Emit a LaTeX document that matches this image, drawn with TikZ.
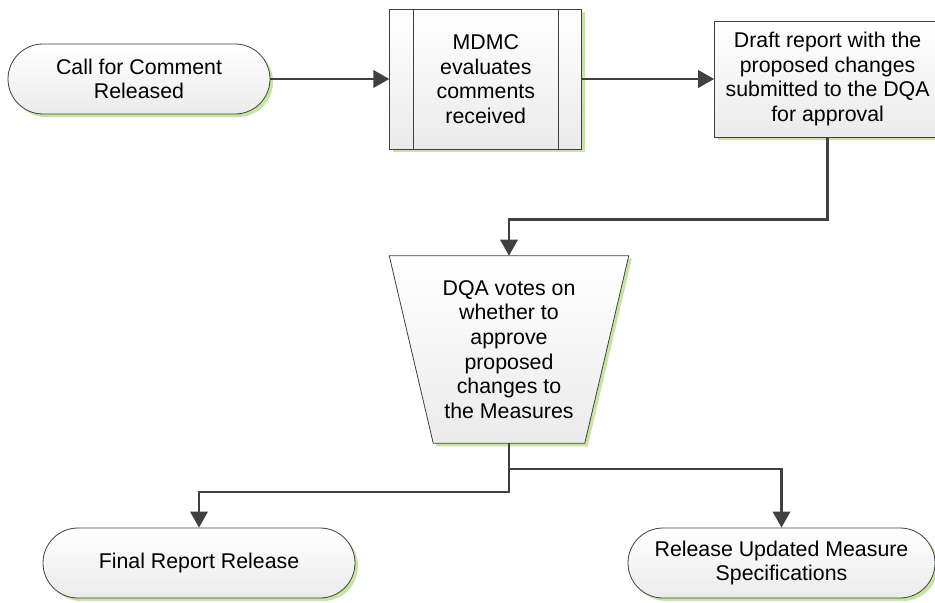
\documentclass[tikz,border=0pt]{standalone}
\usepackage{fontspec}
\setmainfont{Liberation Sans}
\usetikzlibrary{arrows.meta,positioning,shapes.misc,shadows,backgrounds}

\definecolor{linegray}{HTML}{404040}
\definecolor{shadowgreen}{HTML}{C5E5A0}

\tikzset{
	skin/.style={draw=linegray,line width=0.6pt,top color=white,bottom color=black!8,
		drop shadow={fill=shadowgreen,opacity=1,shadow xshift=2.25pt,shadow yshift=-2.25pt}},
	label/.style={align=center,inner sep=0pt,font=\fontsize{16}{18.5}\selectfont},
	box/.style={skin,label},
	terminal/.style={box,rounded rectangle,minimum height=52.5pt},
	process/.style={box,rectangle},
	vote/.style={label,minimum width=179.25pt,minimum height=140.25pt},
	flow/.style={->,draw=linegray,line width=1.8pt}
}

\begin{document}
\begin{tikzpicture}[>={Triangle[width=13pt,length=12pt]}]
\useasboundingbox (0,0) rectangle (701.25pt,-452.25pt);

\node[terminal,minimum width=196.5pt]	(call)	at (104.25pt,-59.25pt)	{Call for Comment\\Released};
	\node[process,minimum width=144pt,minimum height=105pt]	(mdmc)	[right=89.25pt of call]	{MDMC\\evaluates\\comments\\received};
	\node[process,minimum width=169.5pt,minimum height=87pt]	(draft)	[right=99pt of mdmc]	{Draft report with the\\proposed changes\\submitted to the DQA\\for approval};
	\node[vote]	(dqa)	at (381.75pt,-262.125pt)	{DQA votes on\\whether to\\approve\\proposed\\changes to\\the Measures};
	\node[terminal,minimum width=234pt]	(final)	at (149.25pt,-422.25pt)	{Final Report Release};
	\node[terminal,minimum width=230.25pt]	(release)	at (586.125pt,-422.25pt)	{Release Updated Measure\\Specifications};

% manual input shape behind the vote text
\begin{scope}[on background layer]
	\path[skin] (dqa.north west) -- (dqa.north east) -- ([xshift=-33pt]dqa.south east)
		-- ([xshift=33pt]dqa.south west) -- cycle;
\end{scope}

\draw[linegray,line width=0.6pt] ([xshift=18pt]mdmc.north west) -- ([xshift=18pt]mdmc.south west)
	([xshift=-18pt]mdmc.north east) -- ([xshift=-18pt]mdmc.south east);

\path	(call.east)	edge[flow]	(call.east -| mdmc.west)
		(mdmc.east)	edge[flow]	(mdmc.east -| draft.west);
\draw[flow]	(draft.south) -- ++(0,-61.5pt) -| (dqa.north);
\draw[flow]	(dqa.south) -- ++(0,-36.75pt) -| (final.north);
\draw[flow]	(dqa.south) -- ++(0,-19.5pt) -| (release.north);
\end{tikzpicture}
\end{document}
